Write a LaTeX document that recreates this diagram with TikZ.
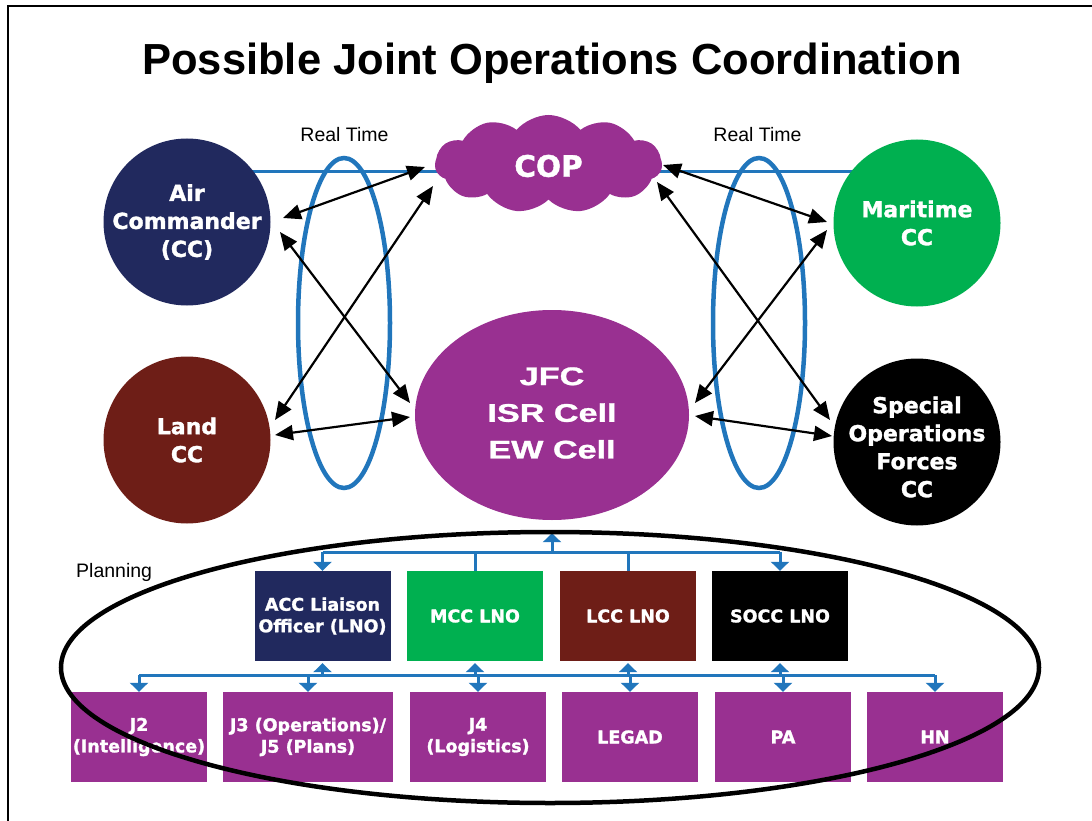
\documentclass[tikz,border=0pt]{standalone}
\usepackage{fontspec}
\setmainfont{Liberation Sans}
\newfontfamily\labfont{DejaVu Sans}[BoldFeatures={FakeBold=1.5}]
\newfontfamily\jfcfont{Liberation Sans}[BoldFeatures={FakeBold=1}]
\usetikzlibrary{shapes.geometric,shapes.symbols,arrows.meta,calc}
\pgfdeclarelayer{background}
\pgfsetlayers{background,main}
\definecolor{navy}{HTML}{21295E}
\definecolor{landred}{HTML}{6E1E17}
\definecolor{margreen}{HTML}{00B050}
\definecolor{jpurple}{HTML}{993091}
\definecolor{lblue}{HTML}{2176BC}
\begin{document}
\begin{tikzpicture}[x=1pt,y=-1pt,
  circ/.style={circle, minimum size=167pt, inner sep=0pt},
  ctext/.style={text=white, font=\labfont\bfseries\fontsize{22}{28}\selectfont, align=center, inner sep=0pt},
  lbox/.style={minimum width=136pt, minimum height=90pt, inner sep=0pt, text=white, align=center, font=\labfont\bfseries\fontsize{17.5}{21.5}\selectfont},
  arr/.style={line width=2.2pt, {Triangle[length=18pt,width=15pt]}-{Triangle[length=18pt,width=15pt]}},
  bus/.style={draw=lblue, line width=3pt},
  btip/.style={bus, -{Triangle[length=9pt,width=18pt]}},
  rtell/.style={draw=lblue, line width=4.5pt},
]
\useasboundingbox (0,0) rectangle (1092,821);
% frame
\draw[line width=2.4pt] (8,840) -- (8,6) -- (1110,6);
% title
\node[font=\bfseries\fontsize{43.5}{50}\selectfont, anchor=base] (title) at (552,75) {Possible Joint Operations Coordination};
% real time labels
\node[font=\fontsize{19.5}{22}\selectfont, anchor=base] (rt1) at (344.5,141.5) {Real Time};
\node[font=\fontsize{19.5}{22}\selectfont, anchor=base] (rt2) at (757.5,141.5) {Real Time};
% commander circles
\node[circ, fill=navy] (air) at (187,222) {};
\node[circ, fill=landred] (land) at (187,440) {};
\node[circ, fill=margreen] (mar) at (917,223) {};
\node[circ, fill=black] (sof) at (917,442) {};
% blue real-time line (behind)
\begin{pgfonlayer}{background}
\draw[bus] ($(air)+(0,-50)$) -- ($(mar)+(0,-51)$);
\end{pgfonlayer}
% COP cloud
\node[cloud, fill=jpurple, cloud puffs=11, cloud puff arc=100, aspect=2.3, minimum width=227pt, minimum height=98pt, inner sep=0pt] (cop) at (548.5,164) {};
\node[text=white, font=\labfont\bfseries\fontsize{29.5}{32}\selectfont, inner sep=0pt] (coptxt) at (548.5,166) {COP};
% JFC
\node[ellipse, fill=jpurple, minimum width=274pt, minimum height=210pt, inner sep=0pt] (jfc) at (552,415) {};
\node[text=white, font=\jfcfont\bfseries\fontsize{25.5}{36.7}\selectfont, align=center, inner sep=0pt] (jfctxt) at (552,413) {\scalebox{1.34}[1]{JFC}\\\scalebox{1.34}[1]{ISR Cell}\\\scalebox{1.34}[1]{EW Cell}};
% circle texts
\node[ctext] (airtxt) at (air) {Air\\Commander\\(CC)};
\node[ctext] (landtxt) at (land) {Land\\CC};
\node[ctext] (martxt) at (mar) {Maritime\\CC};
\node[ctext] (softxt) at ($(sof)+(0,5)$) {Special\\Operations\\Forces\\CC};
% real time ellipses
\draw[rtell] (344,323) ellipse [x radius=46, y radius=165];
\draw[rtell] (759,323) ellipse [x radius=46, y radius=165];
% black arrows, left
\draw[arr] ($(air)+(96,-4)$) -- ($(cop)+(-123.5,3)$);
\draw[arr] ($(air)+(93,10)$) -- ($(jfc)+(-142,-12)$);
\draw[arr] ($(land)+(88,-20)$) -- ($(cop)+(-115.5,22)$);
\draw[arr] ($(land)+(88,-5)$) -- ($(jfc)+(-142,2)$);
% black arrows, right
\draw[arr] ($(cop)+(114.5,1)$) -- ($(mar)+(-90,-1)$);
\draw[arr] ($(cop)+(108.5,18)$) -- ($(sof)+(-87,-22)$);
\draw[arr] ($(jfc)+(143,-12)$) -- ($(mar)+(-90,7)$);
\draw[arr] ($(jfc)+(143,1)$) -- ($(sof)+(-85,-6)$);
% LNO boxes
\node[lbox, fill=navy] (acc) at (322.5,616) {ACC Liaison\\Officer (LNO)};
\node[lbox, fill=margreen] (mcc) at (475,616) {MCC LNO};
\node[lbox, fill=landred] (lcc) at (628,616) {LCC LNO};
\node[lbox, fill=black] (socc) at (780,616) {SOCC LNO};
% staff boxes
\node[lbox, fill=jpurple] (j2) at (139,737) {J2\\(Intelligence)};
\node[lbox, fill=jpurple, minimum width=170pt] (j3) at (308,737) {J3 (Operations)/\\J5 (Plans)};
\node[lbox, fill=jpurple] (j4) at (478,737) {J4\\(Logistics)};
\node[lbox, fill=jpurple] (legad) at (630,737) {LEGAD};
\node[lbox, fill=jpurple] (pa) at (783,737) {PA};
\node[lbox, fill=jpurple] (hn) at (935,737) {HN};
% top bus
\coordinate (tl) at (322.5,552);
\coordinate (tr) at (780,552);
\draw[bus] (tl) -- (tr);
\draw[btip, shorten >=13pt] (jfc.south |- tl) -- (jfc.south);
\draw[btip] (tl) -- (acc.north);
\draw[btip] (tr) -- (socc.north);
\draw[bus] (mcc.north |- tl) -- (mcc.north);
\draw[bus] (lcc.north |- tl) -- (lcc.north);
% bottom bus
\coordinate (bl) at (139,675);
\coordinate (br) at (935,675);
\draw[bus] (bl) -- (br);
\draw[btip] (bl) -- (j2.north);
\draw[btip] (br) -- (hn.north);
\foreach \n in {j3,j4,legad,pa}{
  \draw[btip] (\n.north |- bl) -- (\n.north);
}
\foreach \n in {acc,mcc,lcc,socc}{
  \draw[btip, shorten >=2pt] (\n.south |- bl) -- (\n.south);
}
% planning
\node[anchor=base west, inner sep=0pt, font=\fontsize{19.5}{22}\selectfont] (plan) at (76,577) {Planning};
\draw[line width=4.5pt] (550,667.5) ellipse [x radius=489, y radius=135.5];
\end{tikzpicture}
\end{document}
